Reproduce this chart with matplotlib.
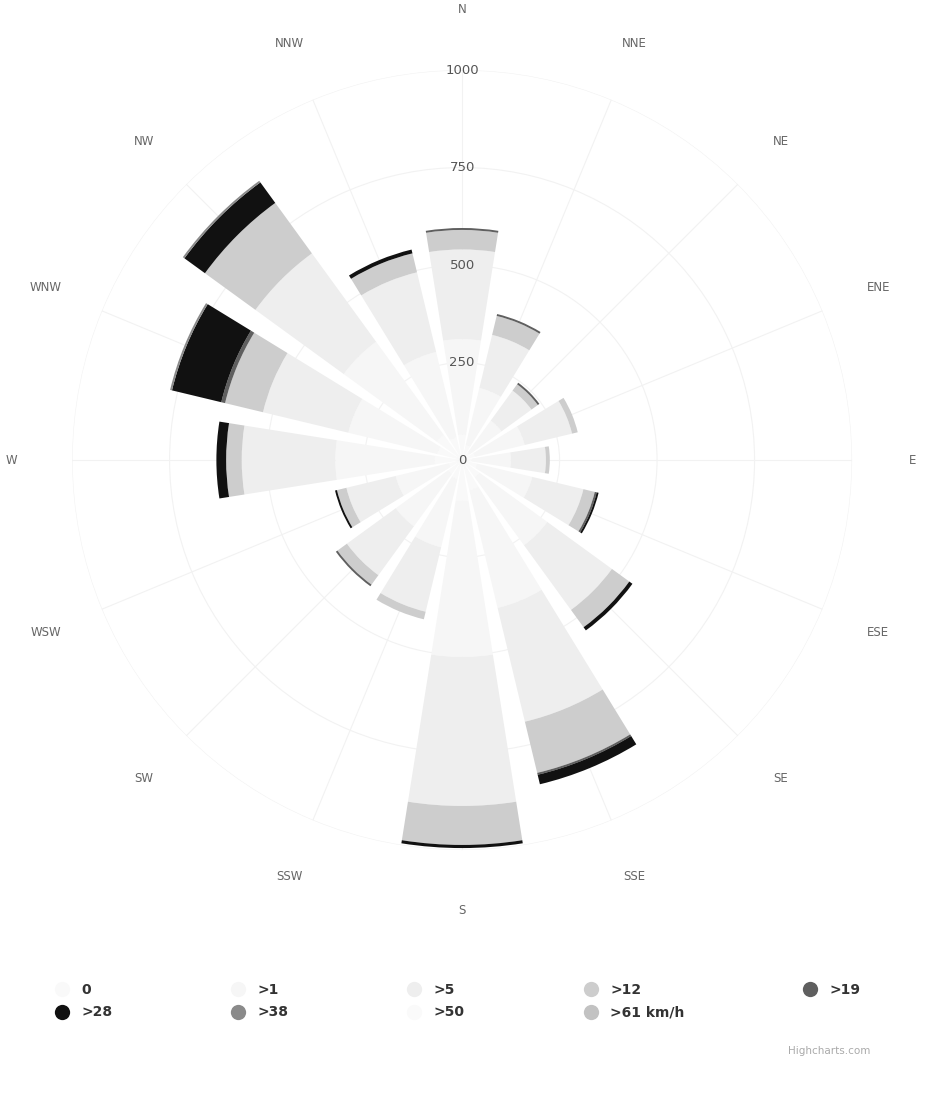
import numpy as np
import matplotlib
matplotlib.use("Agg")
import matplotlib.pyplot as plt
from matplotlib.lines import Line2D

# Directions (clockwise from north)
directions = ["N", "NNE", "NE", "ENE", "E", "ESE", "SE", "SSE",
              "S", "SSW", "SW", "WSW", "W", "WNW", "NW", "NNW"]

# Speed classes (km/h) and stacked frequencies per direction
speed_labels = ["0", ">1", ">5", ">12", ">19", ">28", ">38", ">50", ">61 km/h"]

calm   = [65, 40, 25, 35, 25, 40, 55, 80, 105, 50, 45, 35, 70, 65, 80, 60]
s_1    = [245, 150, 100, 130, 100, 145, 215, 310, 400, 180, 165, 140, 255, 235, 295, 225]
s_5    = [230, 140, 95, 125, 90, 135, 205, 300, 382, 170, 155, 130, 240, 225, 280, 210]
s_12   = [50, 50, 20, 15, 10, 30, 55, 135, 100, 20, 30, 25, 40, 100, 160, 50]
s_19   = [5, 5, 5, 0, 0, 5, 0, 5, 0, 0, 5, 0, 0, 10, 0, 0]
s_28   = [0, 0, 0, 0, 0, 5, 10, 25, 8, 0, 0, 5, 25, 130, 65, 10]
s_38   = [0, 0, 0, 0, 0, 0, 0, 0, 0, 0, 0, 0, 0, 5, 5, 0]
s_50   = [0, 0, 0, 0, 0, 0, 0, 0, 0, 0, 0, 0, 0, 0, 0, 0]
s_61   = [0, 0, 0, 0, 0, 0, 0, 0, 0, 0, 0, 0, 0, 0, 0, 0]

series = [calm, s_1, s_5, s_12, s_19, s_28, s_38, s_50, s_61]
colors = ["#f9f9f9", "#f6f6f6", "#eeeeee", "#cdcdcd", "#5f5f5f",
          "#111111", "#8a8a8a", "#fafafa", "#c2c2c2"]

radial_ticks = [0, 250, 500, 750, 1000]

fig = plt.figure(figsize=(9.26, 11.12), dpi=100)
ax = fig.add_axes([0.0778, 0.2356, 0.8424, 0.7014], projection="polar")
ax.set_theta_zero_location("N")
ax.set_theta_direction(-1)

theta = np.deg2rad(np.arange(len(directions)) * 22.5)
width = np.deg2rad(18)

bottom = np.zeros(len(directions))
for vals, col, lab in zip(series, colors, speed_labels):
    ax.bar(theta, vals, width=width, bottom=bottom, color=col,
           linewidth=0, label=lab, zorder=2)
    bottom += np.array(vals)

ax.set_ylim(0, 1000)
ax.set_yticks(radial_ticks)
ax.set_yticklabels([])
ax.set_xticks(theta)
ax.set_xticklabels([])
ax.grid(color="#f2f2f2", linewidth=0.8)
ax.spines["polar"].set_visible(False)

# radial value labels along the north spoke
for v in radial_ticks:
    ax.text(0, v, str(v), ha="center", va="center", fontsize=9.5,
            color="#555555", zorder=3)

# compass labels outside the pane
for t, d in zip(theta, directions):
    ax.text(t, 1155, d, ha="center", va="center", fontsize=8.5,
            color="#666666", clip_on=False)

# legend, row-major order for 5 columns
handles = []
for col, lab in zip(colors, speed_labels):
    handles.append(Line2D([], [], linestyle="none", marker="o", markersize=11,
                          markerfacecolor=col, markeredgewidth=0, label=lab))
order = [0, 5, 1, 6, 2, 7, 3, 8, 4]
leg = fig.legend([handles[i] for i in order], [speed_labels[i] for i in order],
                 ncol=5, loc="lower left", bbox_to_anchor=(0.038, 0.072, 0.905, 0.05),
                 mode="expand", frameon=False, handletextpad=0.4,
                 labelspacing=0.6, prop={"weight": "bold", "size": 10})
for txt in leg.get_texts():
    txt.set_color("#333333")

fig.text(0.94, 0.055, "Highcharts.com", ha="right", va="center",
         fontsize=7.5, color="#aaaaaa")

fig.savefig("out.png", dpi=100)
